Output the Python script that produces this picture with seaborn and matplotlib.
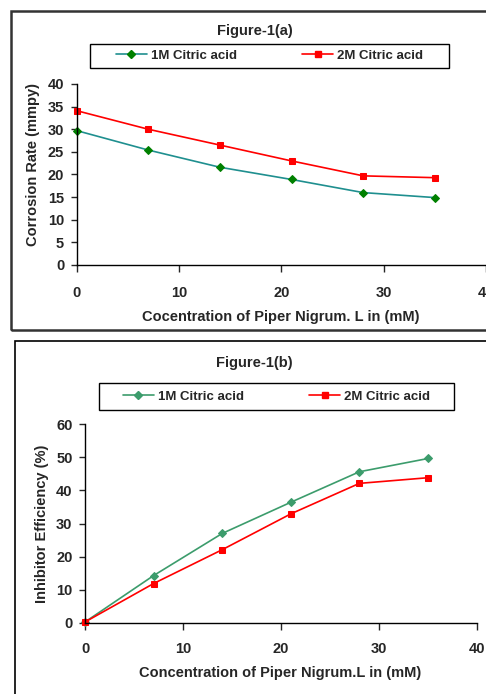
import matplotlib
matplotlib.use("Agg")
import matplotlib.pyplot as plt
from matplotlib.patches import Rectangle
from matplotlib.lines import Line2D
import seaborn as sns

# ─── data ────────────────────────────────────────────────────────────────────
conc = [0, 7, 14, 21, 28, 35]
corr_1m = [29.7, 25.4, 21.6, 18.9, 16.0, 14.9]
corr_2m = [34.1, 30.0, 26.5, 23.0, 19.7, 19.3]
eff_1m = [0.3, 14.3, 27.0, 36.4, 45.6, 49.6]
eff_2m = [0.3, 11.9, 22.1, 32.9, 42.1, 43.8]
series_names = ["1M Citric acid", "2M Citric acid"]

# ─── style ───────────────────────────────────────────────────────────────────
sns.set_theme(style="white")
plt.rcParams["font.family"] = ["Liberation Sans", "DejaVu Sans"]
plt.rcParams["font.weight"] = "bold"

W, H = 486, 694
fig = plt.figure(figsize=(W / 100, H / 100), dpi=100)


def px_axes(x0, y_top, x1, y_bot):
    return fig.add_axes([x0 / W, 1 - y_bot / H, (x1 - x0) / W, (y_bot - y_top) / H])


def px_rect(x0, y_top, x1, y_bot, lw, color):
    fig.add_artist(Rectangle((x0 / W, 1 - y_bot / H), (x1 - x0) / W, (y_bot - y_top) / H,
                             transform=fig.transFigure, fill=False, lw=lw, ec=color))


def style_axes(ax, yticks, xpad):
    for s in ["top", "right"]:
        ax.spines[s].set_visible(False)
    for s in ["left", "bottom"]:
        ax.spines[s].set_color("black")
        ax.spines[s].set_linewidth(1.0)
    ax.set_xlim(0, 40)
    ax.set_ylim(yticks[0], yticks[-1])
    ax.set_xticks([0, 10, 20, 30, 40])
    ax.set_yticks(yticks)
    ax.tick_params(axis="x", direction="out", length=5, width=1, pad=xpad,
                   labelsize=10.5, bottom=True)
    ax.tick_params(axis="y", direction="out", length=4, width=1, pad=5,
                   labelsize=10.5, left=True)
    for lab in ax.get_xticklabels() + ax.get_yticklabels():
        lab.set_fontweight("bold")
    ax.grid(False)
    ax.patch.set_alpha(0)


def legend_box(x0, y_top, x1, y_bot, handles):
    px_rect(x0, y_top, x1, y_bot, 1.0, "black")
    fig.legend(handles=handles, labels=series_names, ncol=2, frameon=False,
               loc="center", bbox_to_anchor=((x0 + x1) / 2 / W, 1 - (y_top + y_bot) / 2 / H),
               prop={"weight": "bold", "size": 9.5}, handlelength=2.3,
               columnspacing=5.0, handletextpad=0.3)


# ─── Figure-1(a) ─────────────────────────────────────────────────────────────
px_rect(11, 11, 520, 330, 1.8, "#333333")
fig.text(255 / W, 1 - 31 / H, "Figure-1(a)", ha="center", va="center",
         fontsize=10.5, fontweight="bold")

ax1 = px_axes(76.7, 84, 486, 265)
sns.lineplot(x=conc, y=corr_1m, ax=ax1, color="#1f8f8f", lw=1.2, marker="D",
             markersize=4, markerfacecolor="#008000", markeredgecolor="#008000")
sns.lineplot(x=conc, y=corr_2m, ax=ax1, color="#ff0000", lw=1.2, marker="s",
             markersize=4.5, markerfacecolor="#ff0000", markeredgecolor="#ff0000")
style_axes(ax1, [0, 5, 10, 15, 20, 25, 30, 35, 40], xpad=10)
ax1.set_xlabel("Cocentration of Piper Nigrum. L in (mM)", fontsize=10.5, fontweight="bold")
ax1.set_ylabel("Corrosion Rate (mmpy)", fontsize=10.5, fontweight="bold")
ax1.xaxis.set_label_coords(0.498, -0.287)
ax1.xaxis.label.set_verticalalignment("center")
ax1.yaxis.set_label_coords(-0.107, 0.558)
ax1.yaxis.label.set_verticalalignment("center")

legend_box(90, 44, 449, 68, [
    Line2D([], [], color="#1f8f8f", lw=1.2, marker="D", markersize=4,
           markerfacecolor="#008000", markeredgecolor="#008000"),
    Line2D([], [], color="#ff0000", lw=1.2, marker="s", markersize=4.5,
           markerfacecolor="#ff0000", markeredgecolor="#ff0000"),
])

# ─── Figure-1(b) ─────────────────────────────────────────────────────────────
px_rect(15, 341, 520, 720, 1.2, "black")
fig.text(254 / W, 1 - 363 / H, "Figure-1(b)", ha="center", va="center",
         fontsize=10.5, fontweight="bold")

ax2 = px_axes(85, 424, 477, 623)
sns.lineplot(x=conc, y=eff_1m, ax=ax2, color="#3c9c6c", lw=1.2, marker="D",
             markersize=4, markerfacecolor="#3c9c6c", markeredgecolor="#3c9c6c")
sns.lineplot(x=conc, y=eff_2m, ax=ax2, color="#ff0000", lw=1.2, marker="s",
             markersize=5, markerfacecolor="#ff0000", markeredgecolor="#ff0000")
style_axes(ax2, [0, 10, 20, 30, 40, 50, 60], xpad=9)
ax2.set_xlabel("Concentration of Piper Nigrum.L in (mM)", fontsize=10.5, fontweight="bold")
ax2.set_ylabel("Inhibitor Efficiency (%)", fontsize=10.5, fontweight="bold")
ax2.xaxis.set_label_coords(0.499, -0.251)
ax2.xaxis.label.set_verticalalignment("center")
ax2.yaxis.set_label_coords(-0.110, 0.50)
ax2.yaxis.label.set_verticalalignment("center")

legend_box(99, 383, 454, 410, [
    Line2D([], [], color="#3c9c6c", lw=1.2, marker="D", markersize=4,
           markerfacecolor="#3c9c6c", markeredgecolor="#3c9c6c"),
    Line2D([], [], color="#ff0000", lw=1.2, marker="s", markersize=4.5,
           markerfacecolor="#ff0000", markeredgecolor="#ff0000"),
])

for ax in (ax1, ax2):
    for ln in ax.get_lines():
        ln.set_clip_on(False)

fig.savefig("out.png", dpi=100)
